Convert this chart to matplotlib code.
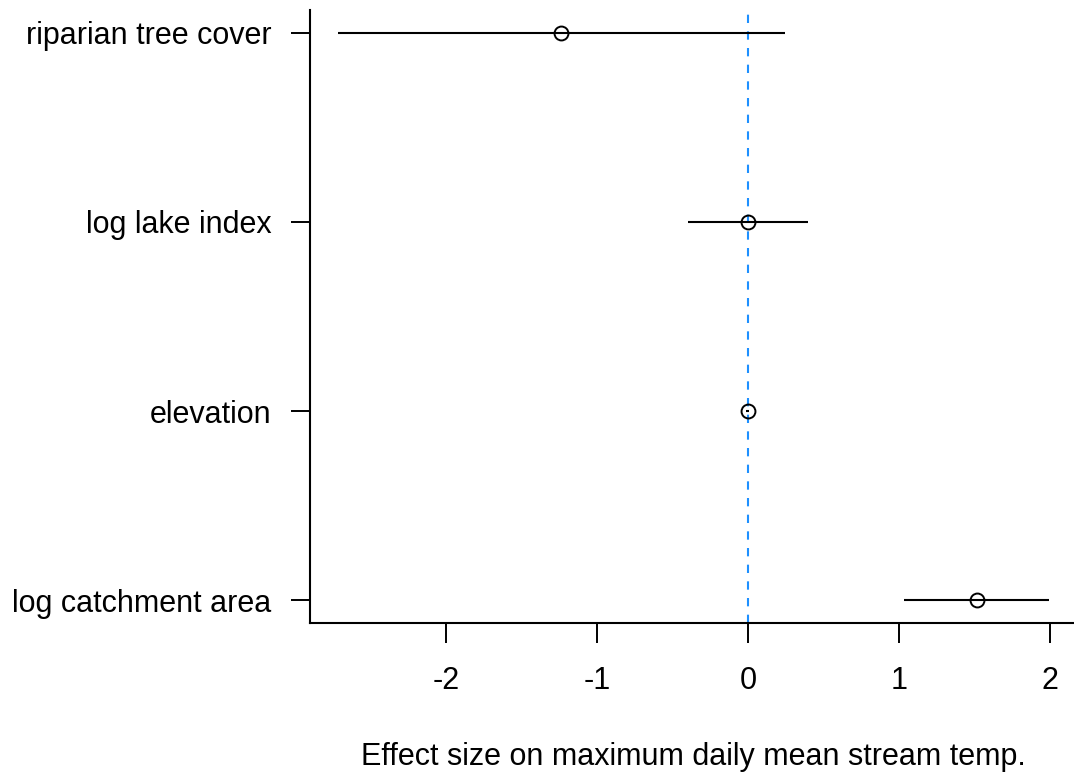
import matplotlib
matplotlib.use("Agg")
import matplotlib.pyplot as plt

plt.rcParams['font.family'] = ['Liberation Sans', 'DejaVu Sans']

labels = ["log catchment area", "elevation", "log lake index", "riparian tree cover"]
estimate = [1.514, 0.002, 0.0, -1.238]
lower = [1.031, -0.01, -0.397, -2.715]
upper = [1.995, 0.01, 0.397, 0.245]
xticks = [-2, -1, 0, 1, 2]

W, H = 1074, 775
fig = plt.figure(figsize=(W / 100, H / 100), dpi=100)
x0, x1 = 309.6, 1077.6
y0, y1 = 622.7, 10.3
ax = fig.add_axes([x0 / W, 1 - y0 / H, (x1 - x0) / W, (y0 - y1) / H])

ypos = list(range(1, len(labels) + 1))
ax.axvline(0, color='#1E90FF', lw=1.5, ls=(0, (4, 4)), zorder=1)
ax.hlines(ypos, lower, upper, color='black', lw=1.5, zorder=2)
ax.plot(estimate, ypos, 'o', mfc='none', mec='black', ms=10, mew=1.4, zorder=3)

xmin = min(lower); xmax = max(upper)
ext = 0.04 * (xmax - xmin)
ax.set_xlim(xmin - ext, xmax + ext)
ax.set_ylim(1 - 0.12, len(labels) + 0.12)

ax.set_yticks(ypos)
ax.set_yticklabels(labels, fontsize=22)
ax.set_xticks(xticks)
ax.set_xticklabels([str(t) for t in xticks], fontsize=22)
ax.tick_params(axis='y', length=13.7, width=1.4, pad=14)
ax.tick_params(axis='x', length=14.4, width=1.4, pad=17)
for s in ['top', 'right']:
    ax.spines[s].set_visible(False)
for s in ['left', 'bottom']:
    ax.spines[s].set_linewidth(1.5)
ax.set_xlabel("Effect size on maximum daily mean stream temp.", fontsize=22, labelpad=33)

fig.savefig("out.png", dpi=100)
